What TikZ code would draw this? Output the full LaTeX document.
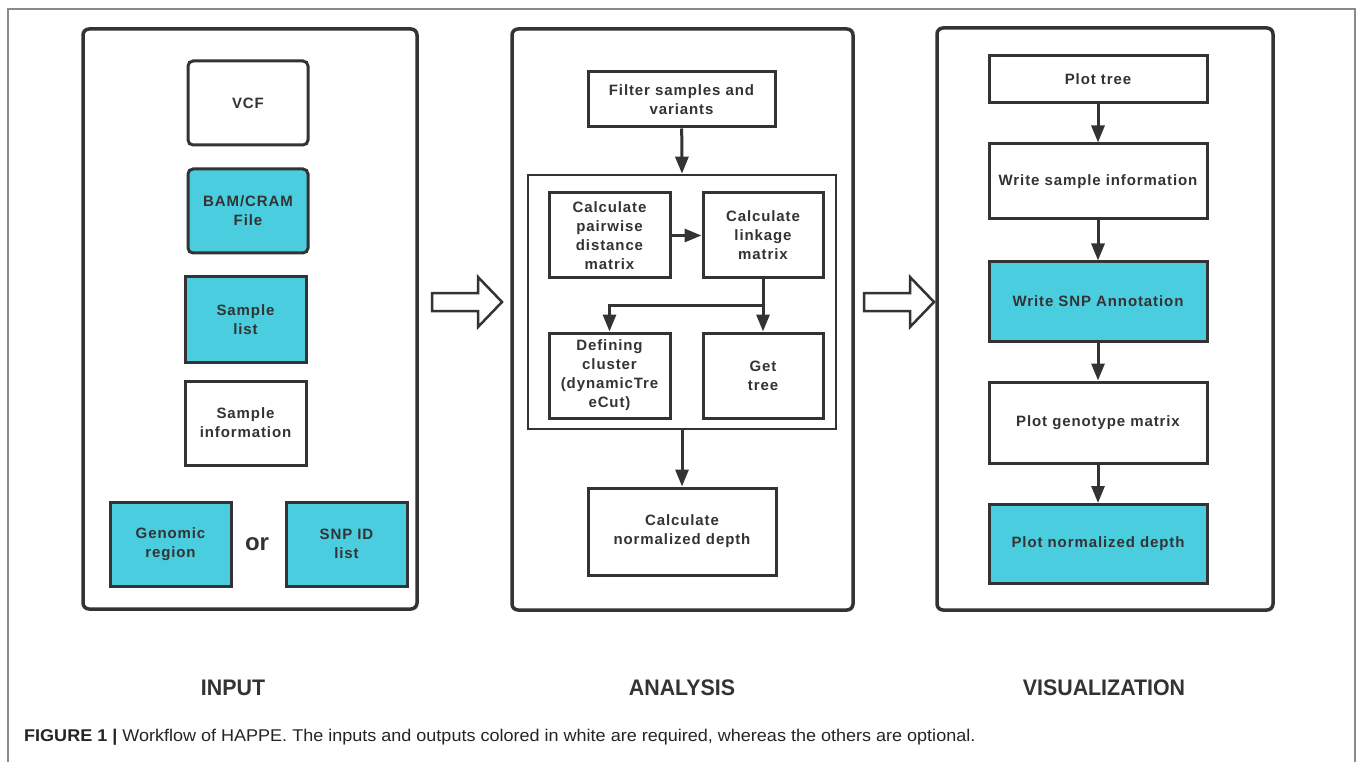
\documentclass[tikz,border=0pt]{standalone}
\usepackage{fontspec}
\setmainfont{Liberation Sans}
\newfontfamily\boxfont{Liberation Sans}[LetterSpace=6]
\newfontfamily\capfont{Liberation Sans}[FakeStretch=1.06]
\newfontfamily\labfont{Liberation Sans}[FakeStretch=0.95]
\usetikzlibrary{arrows.meta}
\definecolor{ink}{HTML}{333333}
\definecolor{cyanbox}{HTML}{4BCDE0}
\definecolor{framegray}{HTML}{8A8A8A}
\tikzset{
  box/.style={draw=ink, line width=3pt, fill=white, text=ink, align=center,
    font=\boxfont\bfseries\fontsize{15}{19}\selectfont, inner sep=0pt},
  opt/.style={fill=cyanbox},
  rbox/.style={rounded corners=5pt},
  panel/.style={draw=ink, line width=3.5pt, rounded corners=6pt},
  innerbox/.style={draw=ink, line width=2.6pt, inner sep=0pt},
  conn/.style={draw=ink, line width=3pt, -{Triangle[length=17pt,width=13pt]}},
  bigarrow/.style={draw=ink, line width=2.5pt, fill=white, line join=miter},
  lab/.style={text=ink, font=\labfont\bfseries\fontsize{22.5}{26}\selectfont},
}
\begin{document}
\begin{tikzpicture}[x=1pt,y=-1pt]
\useasboundingbox[fill=white] (0,0) rectangle (1358,762);
% outer frame
\draw[framegray, line width=1.4pt] (8,762) -- (8,9) -- (1355,9) -- (1355,762);

% panels
\draw[panel] (83,29) rectangle (417,609);
\draw[panel] (512,29) rectangle (853,610);
\draw[panel] (937,28) rectangle (1273,610);

% INPUT
\node[box,rbox,minimum width=120pt,minimum height=84pt] (vcf) at (248,103) {VCF};
\node[box,rbox,opt,minimum width=120pt,minimum height=84pt] (bam) at (248,211) {BAM/CRAM\\File};
\node[box,opt,minimum width=121pt,minimum height=85pt] (slist) at (245.5,319.5) {Sample\\list};
\node[box,minimum width=121pt,minimum height=84pt] (sinfo) at (245.5,423) {Sample\\information};
\node[box,opt,minimum width=121pt,minimum height=84pt] (genreg) at (170.5,544) {Genomic\\region};
\node[box,opt,minimum width=121pt,minimum height=84pt] (snpid) at (346.5,544) {SNP ID\\list};
\node[text=ink, font=\bfseries\fontsize{24}{28}\selectfont] (or) at (257,544) {or};

% big arrows
\draw[bigarrow] (432,293) -- (478,293) -- (478,277) -- (502,302) -- (478,327) -- (478,311) -- (432,311) -- cycle;
\draw[bigarrow] (864,293) -- (910,293) -- (910,277) -- (934,302) -- (910,327) -- (910,311) -- (864,311) -- cycle;

% ANALYSIS
\node[box,minimum width=187pt,minimum height=55pt] (filter) at (681.5,99.5) {Filter samples and\\variants};
\node[innerbox,minimum width=308pt,minimum height=254pt] (inner) at (682,302) {};
\node[box,minimum width=121pt,minimum height=85pt] (pair) at (609.5,235.5) {Calculate\\pairwise\\distance\\matrix};
\node[box,minimum width=120pt,minimum height=85pt] (link) at (763,235.5) {Calculate\\linkage\\matrix};
\node[box,minimum width=121pt,minimum height=85pt] (defc) at (609.5,375.5) {Defining\\cluster\\(dynamicTre\\eCut)};
\node[box,minimum width=120pt,minimum height=85pt] (gtree) at (763,375.5) {Get\\tree};
\node[box,minimum width=188pt,minimum height=87pt] (ndepth) at (682,531.5) {Calculate\\normalized depth};
\coordinate (br) at (763,305);
\draw[conn] (filter) -- (inner.north);
\draw[conn] (pair) -- (link);
\draw[conn] (link) -- (gtree);
\draw[conn] (br) -| (defc.north);
\draw[conn] (inner.south) -- (ndepth);

% VISUALIZATION
\node[box,minimum width=218pt,minimum height=47pt] (ptree) at (1098,79.5) {Plot tree};
\node[box,minimum width=218pt,minimum height=75pt] (wsi) at (1098,181.5) {Write sample information};
\node[box,opt,minimum width=218pt,minimum height=79pt] (wsnp) at (1098,301.5) {Write SNP Annotation};
\node[box,minimum width=218pt,minimum height=81pt] (pgm) at (1098,422.5) {Plot genotype matrix};
\node[box,opt,minimum width=218pt,minimum height=79pt] (pnd) at (1098,544) {Plot normalized depth};
\draw[conn] (ptree) -- (wsi);
\draw[conn] (wsi) -- (wsnp);
\draw[conn] (wsnp) -- (pgm);
\draw[conn] (pgm) -- (pnd);

% labels
\node[lab] (linput) at (233,688) {INPUT};
\node[lab] (lanal) at (682,688) {ANALYSIS};
\node[lab] (lvis) at (1104,688) {VISUALIZATION};

% caption
\node[anchor=base west, inner sep=0pt, text=ink!70!black, font=\capfont\fontsize{17}{19}\selectfont] (cap) at (24,741)
  {{\bfseries FIGURE 1 |} Workflow of HAPPE. The inputs and outputs colored in white are required, whereas the others are optional.};
\end{tikzpicture}
\end{document}
